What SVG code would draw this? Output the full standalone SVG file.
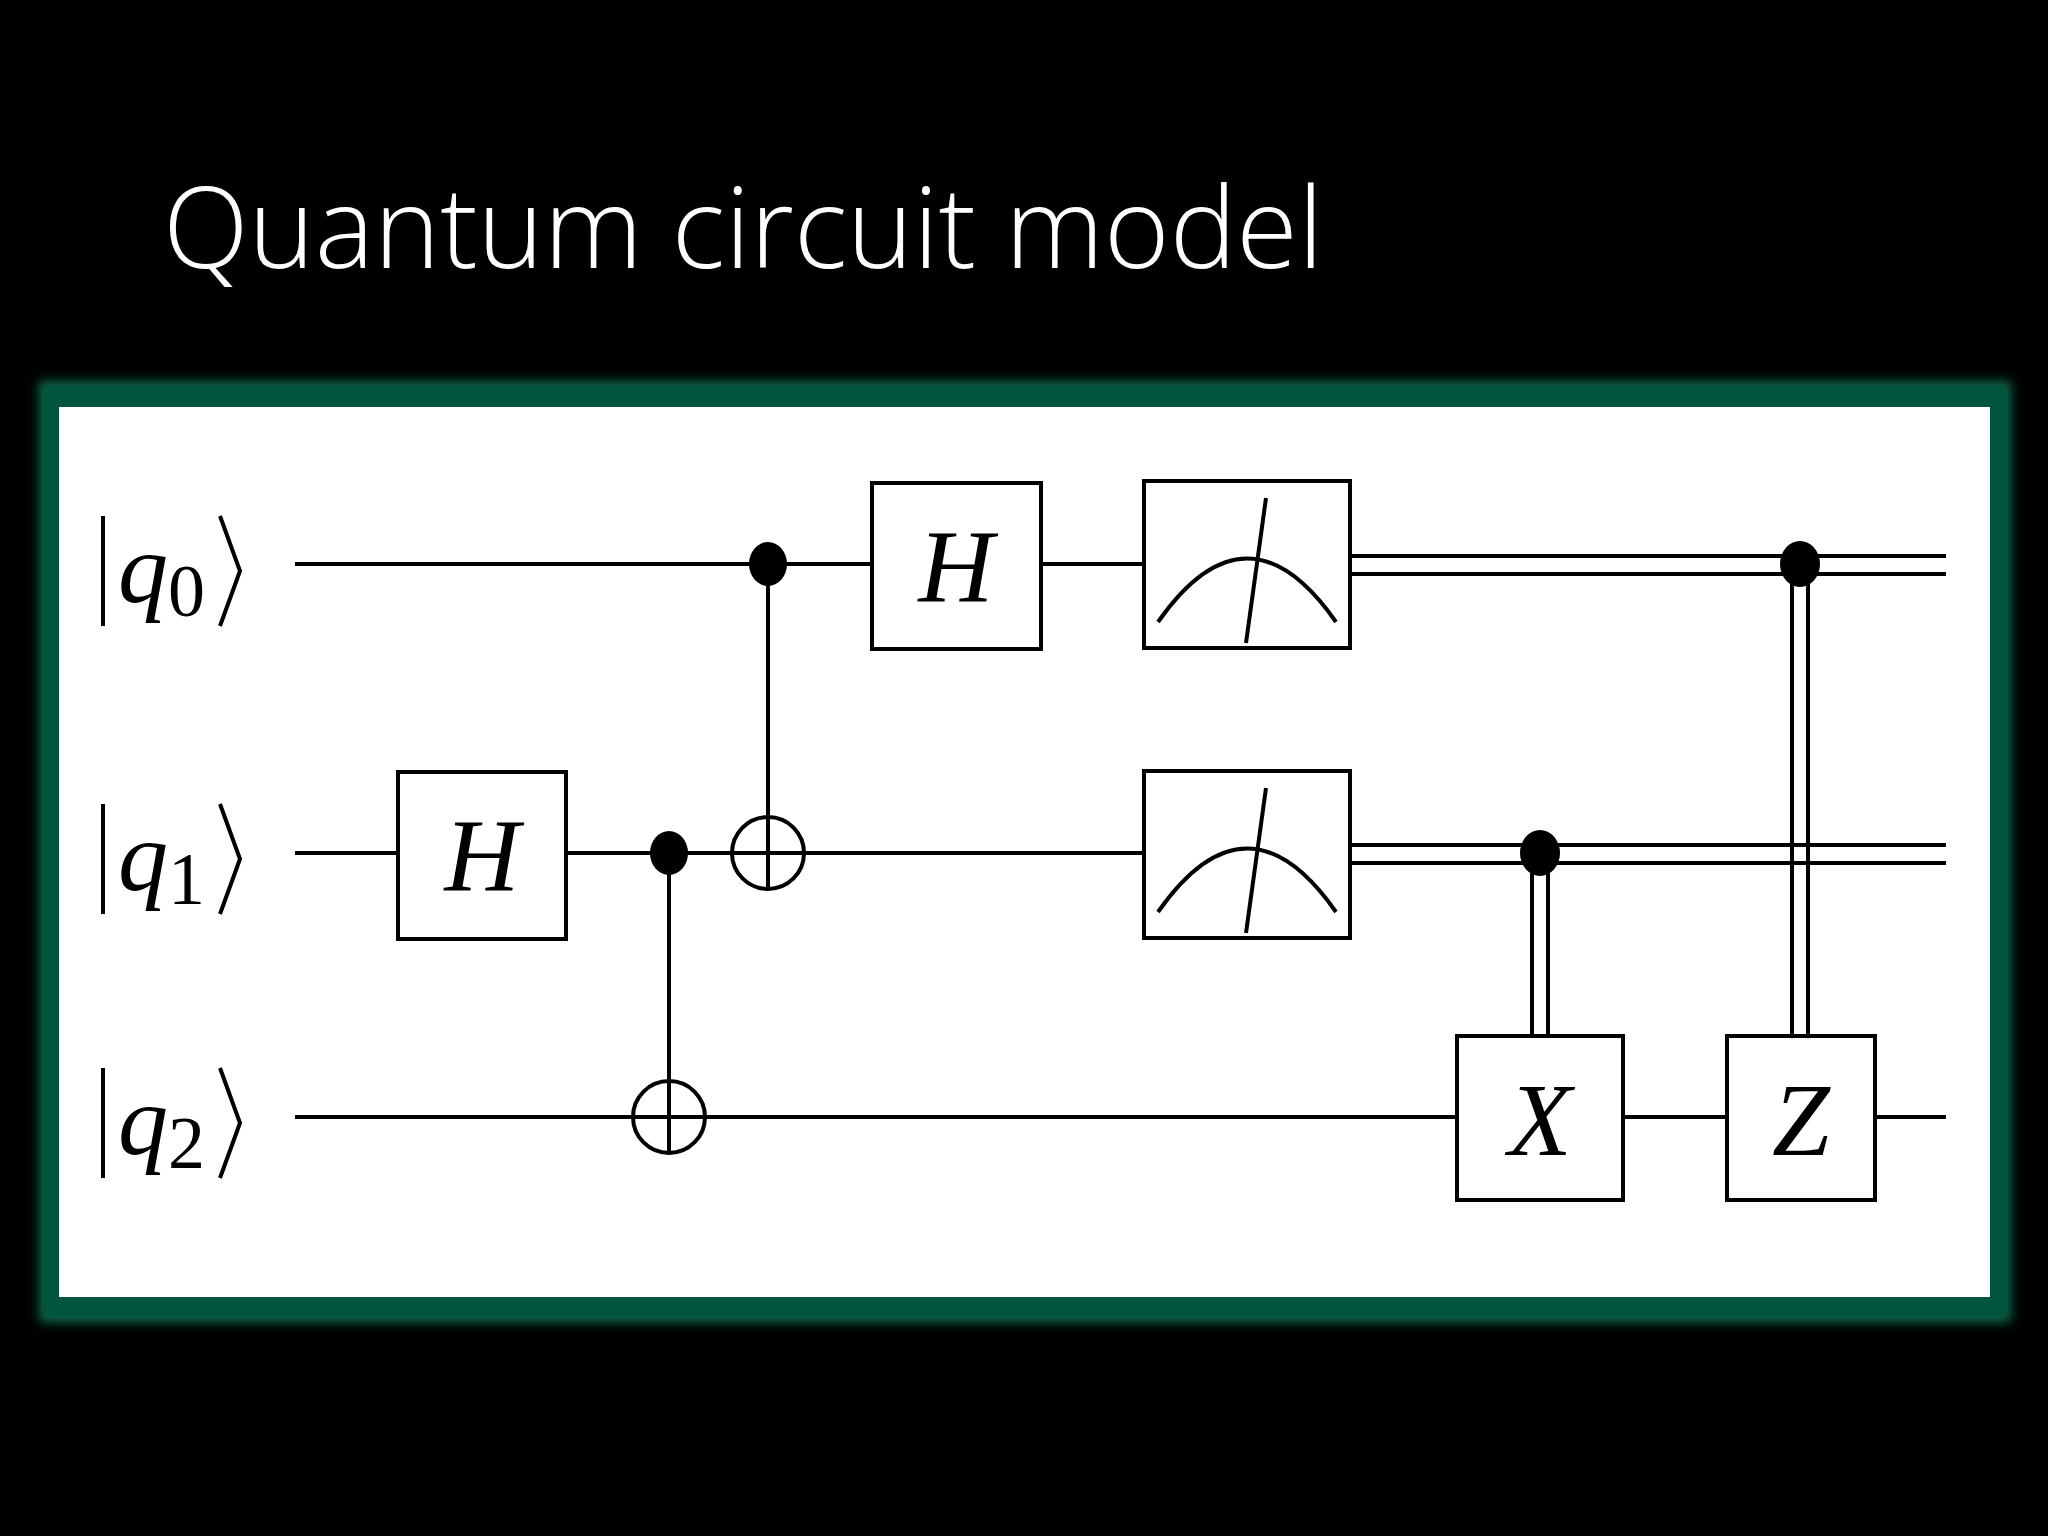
<svg xmlns="http://www.w3.org/2000/svg" width="2048" height="1536" viewBox="0 0 2048 1536">
<defs>
<style>
.w{stroke:#000;stroke-width:4;fill:none}
.b{fill:#fff;stroke:#000;stroke-width:4}
.t{font-family:"Liberation Serif",serif;font-style:italic;fill:#000}
.s{font-family:"Liberation Serif",serif;fill:#000}
</style>
<filter id="gl" x="-5%" y="-5%" width="110%" height="110%"><feGaussianBlur stdDeviation="6"/></filter>
</defs>
<rect width="2048" height="1536" fill="#000"/>
<text x="163" y="268" font-family="Open Sans, sans-serif" font-weight="300" font-size="112" fill="#fff">Quantum circuit model</text>
<rect x="39" y="381" width="1972" height="941" fill="#0a6a4e" filter="url(#gl)"/>
<rect x="44" y="386" width="1962" height="931" fill="#00553e"/>
<rect x="59" y="407" width="1931" height="890" fill="#fff"/>

<g id="labels">
<g id="ket0"><line x1="103" y1="516" x2="103" y2="626" class="w" stroke-width="3"/><text x="118" y="602" class="t" font-size="100">q</text><text x="168" y="616" class="s" font-size="74">0</text><polyline points="220,516 240,571 220,626" class="w" stroke-width="3"/></g>
<g id="ket1"><line x1="103" y1="804" x2="103" y2="914" class="w" stroke-width="3"/><text x="118" y="890" class="t" font-size="100">q</text><text x="168" y="904" class="s" font-size="74">1</text><polyline points="220,804 240,859 220,914" class="w" stroke-width="3"/></g>
<g id="ket2"><line x1="103" y1="1068" x2="103" y2="1178" class="w" stroke-width="3"/><text x="118" y="1154" class="t" font-size="100">q</text><text x="168" y="1168" class="s" font-size="74">2</text><polyline points="220,1068 240,1123 220,1178" class="w" stroke-width="3"/></g>
</g>

<g id="connectors">
<line x1="295" y1="564" x2="1144" y2="564" class="w"/>
<line x1="295" y1="853" x2="1144" y2="853" class="w"/>
<line x1="295" y1="1117" x2="1946" y2="1117" class="w"/>
<line x1="1352" y1="556" x2="1946" y2="556" class="w" stroke-width="5"/>
<line x1="1352" y1="574" x2="1946" y2="574" class="w" stroke-width="5"/>
<line x1="1352" y1="845" x2="1946" y2="845" class="w" stroke-width="5"/>
<line x1="1352" y1="863" x2="1946" y2="863" class="w" stroke-width="5"/>
<line x1="669" y1="853" x2="669" y2="1154" class="w" stroke-width="3"/>
<line x1="768" y1="564" x2="768" y2="890" class="w" stroke-width="3"/>
<line x1="1532" y1="854" x2="1532" y2="1036" class="w"/>
<line x1="1548" y1="854" x2="1548" y2="1036" class="w"/>
<line x1="1792" y1="565" x2="1792" y2="1036" class="w"/>
<line x1="1808" y1="565" x2="1808" y2="1036" class="w"/>
</g>

<g id="h1"><rect x="398" y="772" width="168" height="167" class="b"/><text x="482" y="891" text-anchor="middle" class="t" font-size="104">H</text></g>
<g id="cnot1"><ellipse cx="669" cy="853" rx="19" ry="22" fill="#000"/><circle cx="669" cy="1117" r="36" class="w" stroke-width="3"/><line x1="633" y1="1117" x2="705" y2="1117" class="w" stroke-width="3"/></g>
<g id="cnot2"><ellipse cx="768" cy="564" rx="19" ry="22" fill="#000"/><circle cx="768" cy="853" r="36" class="w" stroke-width="3"/><line x1="732" y1="853" x2="804" y2="853" class="w" stroke-width="3"/></g>
<g id="h0"><rect x="872" y="483" width="169" height="166" class="b"/><text x="956" y="602" text-anchor="middle" class="t" font-size="104">H</text></g>
<g id="m0"><rect x="1144" y="481" width="206" height="167" class="b"/><path d="M1158,622 Q1247,495 1336,622" class="w"/><line x1="1246" y1="643" x2="1266" y2="498" class="w" stroke-width="2"/></g>
<g id="m1"><rect x="1144" y="771" width="206" height="167" class="b"/><path d="M1158,912 Q1247,785 1336,912" class="w"/><line x1="1246" y1="933" x2="1266" y2="788" class="w" stroke-width="2"/></g>
<g id="cx"><ellipse cx="1540" cy="853" rx="20" ry="23" fill="#000"/><rect x="1457" y="1036" width="166" height="164" class="b"/><text x="1540" y="1155" text-anchor="middle" class="t" font-size="104">X</text></g>
<g id="cz"><ellipse cx="1800" cy="564" rx="20" ry="23" fill="#000"/><rect x="1727" y="1036" width="148" height="164" class="b"/><text x="1801" y="1155" text-anchor="middle" class="t" font-size="104">Z</text></g>
</svg>
